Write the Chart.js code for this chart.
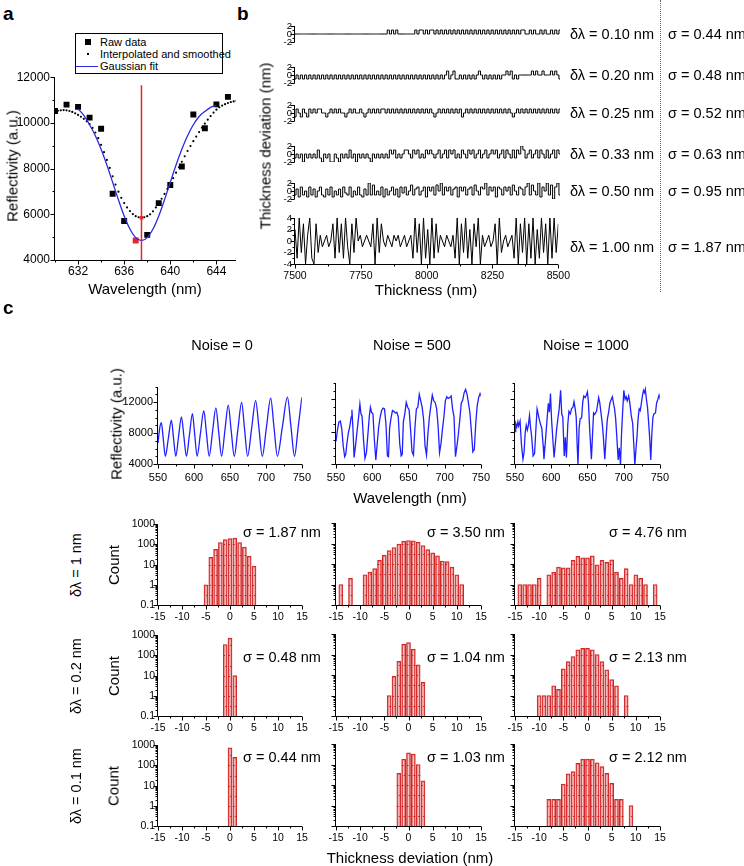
<!DOCTYPE html>
<html>
<head>
<meta charset="utf-8">
<script src="https://cdn.jsdelivr.net/npm/chart.js@4.4.0/dist/chart.umd.min.js"></script>
<style>
body { margin: 0; width: 744px; height: 866px; background: #fff; position: relative; overflow: hidden;
       font-family: 'Liberation Sans', Arial, Helvetica, sans-serif; }
canvas { position: absolute; }
.t { position: absolute; white-space: nowrap; color: #000; line-height: 1; }
#legendA { position: absolute; left: 75px; top: 33px; width: 146px; height: 39px; border: 1px solid #000; background: #fff; font-size: 11px; }
#legendA div { position: absolute; left: 24px; line-height: 1; white-space: nowrap; }
#sep { position: absolute; left: 660px; top: 0; height: 292px; border-left: 1px dotted #666; }
</style>
</head>
<body>
<div id="legendA">
  <span style="position:absolute;left:9px;top:5px;width:6px;height:6px;background:#000"></span>
  <div style="top:3px">Raw data</div>
  <span style="position:absolute;left:11px;top:19px;width:2px;height:2px;background:#000"></span>
  <div style="top:15px">Interpolated and smoothed</div>
  <span style="position:absolute;left:0px;top:32px;width:22px;height:1.3px;background:#2a2ae0"></span>
  <div style="top:27px">Gaussian fit</div>
</div>
<div id="sep"></div>
<script>
// ---------- panel a ----------
const rawWl = [630, 631, 632, 633, 634, 635, 636, 637, 638, 639, 640, 641, 642, 643, 644, 645];
const rawR = [10520, 10800, 10700, 10230, 9740, 6900, 5710, 4850, 5100, 6490, 7280, 8090, 10370, 9770, 10810, 11140];
// smoothed curve, every 0.25 nm from 630 nm
const smoothStart = 630, smoothStep = 0.25;
const smoothR = [10500, 10530, 10550, 10560, 10550, 10520, 10480, 10420,
                 10350, 10270, 10180, 10070, 9950, 9780, 9580, 9330,
                 9040, 8720, 8380, 8030, 7660, 7300, 6990, 6720,
                 6490, 6300, 6140, 6010, 5920, 5870, 5850, 5870,
                 5920, 6000, 6130, 6300, 6480, 6680, 6890, 7110,
                 7340, 7580, 7820, 8060, 8300, 8540, 8770, 8990,
                 9200, 9400, 9600, 9790, 9970, 10140, 10300, 10450,
                 10580, 10680, 10760, 10820, 10870, 10910, 10940, 10970];
const fitWl = [632, 632.5, 633, 633.5, 634, 634.5, 635, 635.5, 636, 636.5, 637, 637.5, 638,
               638.5, 639, 639.5, 640, 640.5, 641, 641.5, 642, 642.5, 643, 643.5, 644];
const fitR = [10620, 10330, 9918, 9441, 8849, 8159, 7402, 6636, 5929, 5356, 4980, 4850, 4980,
              5356, 5929, 6636, 7402, 8159, 8849, 9441, 9918, 10279, 10500, 10680, 10770];
const peakWl = 637.5;

// ---------- panel b ----------
const thickStart = 7500, thickStep = 8;
const dev010 = [0,0,0,0,0,0,0,0,0,0, 0,0,0,0,0,0,0,0,0,0, 0,0,0,0,0,0,0,0,0,0, 0,0,0,0,0,0,0,0,0,0,
  0,0,0,0,1,0,1,0,1,0, 0,0,0,0,0,0,0,1,0,1, 1,0,1,0,1,1,0,1,0,1, 0,1,0,1,0,1,0,1,0,1,
  0,1,0,1,0,1,0,1,0,1, 0,1,0,1,0,1,0,1,0,1, 0,1,0,1,0,1,0,1,1,0, 0,1,0,1,0,0,1,0,1,0, 0,1,0,1,0,1];
const dev020 = [-1,0,-1,0,-1,0,-1,0,-1,0, -1,0,-1,0,-1,0,-1,0,-1,0, -1,0,-1,0,-1,0,-1,0,-1,0,
  -1,0,-1,0,-1,0,-1,0,-1,0, -1,0,-1,0,-1,0,-1,0,-1,0, -1,0,-1,0,-1,0,-1,0,-1,0,
  -1,0,-1,0,-1,0,-1,0,-1,0, -1,0,1,-1,0,1,-1,-1,0,-1, 0,-1,0,-1,0,-1,0,1,0,-1,
  0,-1,0,-1,0,-1,0,-1,0,0, 1,0,1,-1,0,-1,0,0,0,0, 0,0,1,0,1,0,0,1,0,0, 0,1,0,1,0,-1];
const dev025 = [-1,1,0,-1,1,0,-1,1,0,1, 0,1,1,0,0,-1,0,1,0,1, 0,1,0,0,-1,0,1,0,1,0,
  0,1,0,-1,0,1,0,1,0,1, 0,1,1,0,1,0,1,0,1,0, 1,0,1,0,1,0,1,0,1,0, 1,0,1,0,1,0,-1,0,1,0,
  1,0,1,0,1,0,1,0,1,-1, 0,1,0,1,0,1,0,1,0,1, 0,1,0,1,0,1,0,1,0,1, 0,1,0,-1,0,1,0,1,0,1,
  0,1,0,1,0,1,0,1,0,1, 0,1,0,1,0,1];
const dev033 = [-1,0,-1,0,-2,0,-1,0,-1,0, -1,1,-1,-2,0,-1,0,-2,-2,0, -1,-2,0,-1,0,-1,1,-1,0,-2,
  0,-1,0,-1,0,-1,-2,0,-1,0, -1,0,-1,0,-1,1,0,1,-1,0, -1,0,1,1,0,-1,1,0,1,-1,
  0,-1,1,0,1,0,-1,0,1,-1, 0,1,-1,1,0,1,-1,0,-1,1, 0,-1,1,0,1,-1,0,1,-1,0,
  1,-1,0,1,0,1,-1,0,1,-1, 1,0,-1,1,-1,1,0,2,1,-1, 0,1,-1,0,1,-1,1,0,-1,1, -1,0,1,-1,1,0];
const dev050 = [-1,0.5,-1.5,1,-1,0,-1.5,1,-1,0.5, -1.5,0,1,-1,-1.5,0.5,-1,1,-1.5,0,
  -1,0.5,-1.5,1,-0.5,-1,1,-1.5,0,-1, 1,-1,-1.5,0.5,-1,2,-1,1.5,-1,0,
  -1,1,-1.5,0.5,-1,0,1,-1,0.5,-1.5, 1,-0.5,1,-1,0,1.5,-1,0.5,1,-1,
  0,1,-1.5,1,0,1,-1,1.5,0,2, -1,1,0,1,-1,0.5,1,-1.5,1,0,
  1,-1,0.5,1,-1,1.5,0,-1,1,0.5, 2,-1,1,0,1,-1.5,1,0.5,-1,1,
  0,1,-1,1.5,0,-1,1,0.5,-1,1, 2,-1,1.5,0,-1,2,-1.5,1,0,2, -1,1.5,-2,1,2,-1];
const dev100 = [2,-3,4,-2,3,-4,1,4,-3,-4, 3,-2,1,-1,0,1,-1,0, 3,-3,
  4,-2,3,-3,4,-1,-4,3,-2,4, 0,1,-1,0,1,0,-1, 3,-4,4,-2,3,
  0,-1,1,0,-1,1,0,1,-1,0,1,-1,0,1, -3,4,-2,3,-4,4,-3,2,-4,4,-3,3,-2,
  1,0,-1,1,0,-1,1, -3,4,-4,3,-2,4,-3,2,-4,3,-1,4,-4, 1,-1,0,1,-1,0, 3,-4,4,-2,
  0,1,-1,0,1, -3,4,-4,3,-2,4,-4,3,-3,4,-4,2,-3,4,-2,3,-4,4,-3,4,-2,3];
const rowsB = [
  {dev: dev010, dl: 'δλ = 0.10 nm', sig: 'σ = 0.44 nm', mid: 34},
  {dev: dev020, dl: 'δλ = 0.20 nm', sig: 'σ = 0.48 nm', mid: 75},
  {dev: dev025, dl: 'δλ = 0.25 nm', sig: 'σ = 0.52 nm', mid: 113},
  {dev: dev033, dl: 'δλ = 0.33 nm', sig: 'σ = 0.63 nm', mid: 154},
  {dev: dev050, dl: 'δλ = 0.50 nm', sig: 'σ = 0.95 nm', mid: 191},
  {dev: dev100, dl: 'δλ = 1.00 nm', sig: 'σ = 1.87 nm', mid: 241}
];

// ---------- panel c: spectra ----------
const spec0 = [[550,6700],[552.5,8700],[554.7,9350],[557.4,7175],[560.2,5000],[564.4,7325],[568.6,9650],
  [571.6,7325],[574.7,5000],[578.6,7550],[582.6,10100],[586,7550],[589.5,5000],[593.7,7750],[597.9,10500],
  [601.1,7750],[604.4,5000],[609,7950],[613.7,10900],[617.4,7950],[621.2,5000],[625.8,8125],[630.5,11250],
  [634.4,8125],[638.4,5000],[643,8300],[647.7,11600],[651.8,8300],[656,5000],[661.1,8475],[666.3,11950],
  [670.4,8475],[674.6,5000],[680.2,8600],[685.8,12200],[690.4,8600],[695,5000],[700.8,8750],[706.7,12500],
  [711.3,8750],[716,5000],[723,8825],[730,12650],[734.9,8825],[739.8,5000],[745,8800],[750,12600]];
const spec500 = [[550,6800],[552,8200],[554,9200],[556,9300],[558,8300],[560,6200],[562,4900],[563.5,5200],
  [565,6500],[567,7800],[569,8600],[571,9800],[572,10700],[573.5,8200],[575,4800],[577,6300],[579,8000],
  [581,9600],[583,11400],[584.5,10200],[586,9900],[588,7000],[590,4700],[592,5400],[594,7600],[596,9900],
  [597.5,11000],[599,10400],[601,10200],[603,7000],[605,4500],[607,6600],[609,8600],[611,9800],[613,10600],
  [615,10900],[617,10800],[619,8900],[621,5000],[622.5,4900],[624,8400],[626,9700],[628,10600],[630,10500],
  [632,10300],[634,10400],[636,9800],[638,6500],[640,5000],[641.5,5200],[643,9200],[645,10200],[647,11600],
  [649,11000],[651,10700],[653,8200],[655,5500],[657,5100],[659,8500],[661,10800],[663,11000],[665,12600],
  [667,11800],[669,11000],[671,9500],[673,6200],[675,5100],[677,7800],[679,9800],[681,11200],[683,12500],
  [685,11800],[687,11600],[689,10800],[691,8700],[693,5400],[695,6500],[697,8300],[699,9800],[701,11800],
  [703,12300],[705,12100],[707,12200],[709,12400],[711,10800],[713,9800],[715,4900],[717,6200],[719,7700],
  [721,9500],[723,11500],[725,11900],[727,12800],[729,13200],[731,12600],[733,11500],[735,10300],[737,8000],
  [739,5500],[741,5800],[743,9000],[745,11200],[747,12200],[749,12700],[750,12500]];
const spec1000 = [[550,8000],[551,9000],[552.5,8600],[554,9200],[555,8700],[557,9300],[559,6300],[561,4600],
  [562.5,5400],[564,7800],[565.5,8800],[567,8200],[568.5,8800],[570,10000],[571.5,8500],[573,7400],[575,5000],
  [577,5300],[579,8500],[580.5,10800],[582,10200],[583.5,9500],[585,9000],[587,8400],[589,6200],[590,4600],
  [592,6800],[594,9200],[596,11500],[597.5,10400],[599,12700],[600.5,9500],[602,7400],[604,4800],[606,6800],
  [607.5,8300],[609.5,9800],[611,10800],[613,13100],[614.5,10200],[616,9800],[618,5000],[619.5,7300],[621,4800],
  [623,9000],[624.5,10500],[626.5,10200],[628,10800],[630,11000],[631.5,11700],[633,10900],[634.5,9800],
  [636,6000],[637,3900],[638.5,8400],[640,9600],[642,9700],[643.5,11600],[645,12400],[647,12200],[648.5,12500],
  [650,12900],[651.5,11500],[653,8500],[655.5,4600],[657,7500],[658.5,10300],[660,10100],[662.5,10500],
  [664,11300],[665.5,12200],[667,11600],[668.5,10500],[670.5,9000],[672,7400],[674,4600],[676,7600],
  [677.5,9500],[679.5,10500],[681,11500],[683,12000],[684.5,12300],[686,11500],[687.5,10800],[689,9600],
  [690.5,7500],[692.5,4500],[694,6000],[695.7,3900],[697,7500],[698.5,10200],[700.3,13100],[702,12000],
  [703.5,12300],[705,11800],[707,12400],[708.5,11600],[710.5,10000],[712.5,9000],[714,6500],[715.5,3900],
  [717,5800],[718.5,7400],[720,9600],[721.5,10800],[723,10600],[724.5,11500],[726,12400],[727.5,13100],
  [729,12800],[730,13200],[731.5,12000],[733,11000],[734.5,9200],[736,7200],[737.5,4500],[739,7800],
  [740.5,9800],[742,10200],[744,10300],[745.5,11500],[747,11900],[749,12500],[750,12200]];
const noiseTitles = ['Noise = 0', 'Noise = 500', 'Noise = 1000'];

// ---------- panel c: histograms [bin centre, count] ----------
const histD1N0 = [[-5,1],[-4,23],[-3,57],[-2,125],[-1,175],[0,195],[1,205],[2,125],[3,75],[4,26],[5,8.5]];
const histD1N500 = [[-14,1],[-12,2],[-9,3],[-8,4],[-7,6],[-6,15],[-5,27],[-4,45],[-3,64],[-2,95],[-1,130],
  [0,140],[1,135],[2,115],[3,80],[4,50],[5,35],[6,25],[7,14],[8,13],[9,7],[10,3],[11,1]];
const histD1N1000 = [[-14,1],[-13,1],[-12,1],[-11,1],[-10,2],[-8,3],[-7,4],[-6,7],[-5,6.5],[-4,6.5],[-3,15],
  [-2,24],[-1,20],[0,20],[1,25],[2,9],[3,15],[4,12],[5,16],[6,4],[7,2],[8,6],[9,1],[10,3],[11,2],[12,1],[14,1]];
const histD02N0 = [[-1,350],[0,720],[1,10]];
const histD02N500 = [[-4,1],[-3,8.6],[-2,46],[-1,316],[0,380],[1,180],[2,31],[3,4.4]];
const histD02N1000 = [[-10,1],[-9,1],[-8,1],[-7,3],[-6,2],[-5,20],[-4,45],[-3,80],[-2,170],[-1,200],[0,200],
  [1,170],[2,100],[3,45],[4,18],[5,6],[6,3],[8,1]];
const histD01N0 = [[0,750],[1,250]];
const histD01N500 = [[-2,37],[-1,183],[0,370],[1,320],[2,100],[3,16]];
const histD01N1000 = [[-8,2],[-7,2],[-6,2],[-5,11],[-4,35],[-3,45],[-2,113],[-1,183],[0,183],[1,183],[2,122],
  [3,79],[4,37],[5,12],[6,2],[7,2],[9,1]];
const histRows = [
  {label: 'δλ = 1 nm', hists: [histD1N0, histD1N500, histD1N1000], sig: ['σ = 1.87 nm', 'σ = 3.50 nm', 'σ = 4.76 nm']},
  {label: 'δλ = 0.2 nm', hists: [histD02N0, histD02N500, histD02N1000], sig: ['σ = 0.48 nm', 'σ = 1.04 nm', 'σ = 2.13 nm']},
  {label: 'δλ = 0.1 nm', hists: [histD01N0, histD01N500, histD01N1000], sig: ['σ = 0.44 nm', 'σ = 1.03 nm', 'σ = 2.12 nm']}
];

// ---------- helpers ----------
Chart.defaults.font.family = "'Liberation Sans', Arial, Helvetica, sans-serif";
Chart.defaults.color = '#000';
Chart.defaults.animation = false;

// axis lines + outward major/minor tick marks
const axisMarks = {
  id: 'axisMarks',
  afterDraw(chart, args, o) {
    const {ctx, chartArea: a} = chart;
    const x = chart.scales.x, y = chart.scales.y;
    const L = Math.round(a.left) - 0.5, B = Math.round(a.bottom) + 0.5;
    ctx.save();
    ctx.strokeStyle = '#000';
    ctx.lineWidth = 1;
    ctx.beginPath();
    ctx.moveTo(L, Math.round(a.top)); ctx.lineTo(L, B);
    (o.yMajor || []).forEach(v => { const p = Math.round(y.getPixelForValue(v)) + 0.5; ctx.moveTo(L, p); ctx.lineTo(L - 4, p); });
    (o.yMinor || []).forEach(v => { const p = Math.round(y.getPixelForValue(v)) + 0.5; ctx.moveTo(L, p); ctx.lineTo(L - 2, p); });
    if (o.bottom) {
      ctx.moveTo(L, B); ctx.lineTo(Math.round(a.right), B);
      (o.xMajor || []).forEach(v => { const p = Math.round(x.getPixelForValue(v)) + 0.5; ctx.moveTo(p, B); ctx.lineTo(p, B + 4); });
      (o.xMinor || []).forEach(v => { const p = Math.round(x.getPixelForValue(v)) + 0.5; ctx.moveTo(p, B); ctx.lineTo(p, B + 2); });
    }
    ctx.stroke();
    ctx.restore();
  }
};

// small pattern marks inside histogram bars
const barMarks = {
  id: 'barMarks',
  afterDatasetsDraw(chart) {
    const ctx = chart.ctx, y = chart.scales.y;
    const levels = [0.316, 1, 3.16, 10, 31.6, 100, 316];
    ctx.save();
    ctx.strokeStyle = '#d42424';
    ctx.lineWidth = 1;
    ctx.beginPath();
    chart.getDatasetMeta(0).data.forEach((bar, i) => {
      const val = chart.data.datasets[0].data[i].y;
      levels.forEach((lv, k) => {
        if (lv >= val * 0.8) return;
        const p = Math.round(y.getPixelForValue(lv)) + 0.5;
        const xl = bar.x + (k % 2 ? -2 : 0);
        ctx.moveTo(xl, p); ctx.lineTo(xl + 2, p);
      });
    });
    ctx.stroke();
    ctx.restore();
  }
};

function axis(type, min, max, labelVals, size, pad, show) {
  return {
    type: type, min: min, max: max, offset: false,
    grid: {display: false, drawTicks: false}, border: {display: false},
    afterBuildTicks: s => { s.ticks = labelVals.map(v => ({value: v})); },
    ticks: {display: show, autoSkip: false, maxRotation: 0, minRotation: 0, padding: pad,
            font: {size: size}, color: '#000', callback: v => String(v)}
  };
}

// the plot area is placed exactly at box; margins m hold the tick labels
function makePlot(box, m, type, datasets, xs, ys, marks, extra) {
  const cv = document.createElement('canvas');
  cv.width = box.w + m.l + m.r;
  cv.height = box.h + m.t + m.b;
  cv.style.left = (box.x - m.l) + 'px';
  cv.style.top = (box.y - m.t) + 'px';
  document.body.appendChild(cv);
  xs.afterFit = s => { s.height = m.b; };
  ys.afterFit = s => { s.width = m.l; };
  return new Chart(cv, {
    type: type,
    data: {datasets: datasets},
    options: {
      responsive: false, animation: false, events: [],
      layout: {padding: {top: m.t, right: m.r, left: 0, bottom: 0}},
      plugins: {legend: {display: false}, tooltip: {enabled: false}, axisMarks: marks},
      scales: {x: xs, y: ys}
    },
    plugins: extra ? [axisMarks, extra] : [axisMarks]
  });
}

function txt(s, x, y, size, opt) {
  opt = opt || {};
  const d = document.createElement('div');
  d.className = 't';
  d.textContent = s;
  d.style.left = x + 'px';
  d.style.top = y + 'px';
  d.style.fontSize = size + 'px';
  if (opt.bold) d.style.fontWeight = 'bold';
  let tf = opt.align === 'left' ? 'translate(0,-50%)' : 'translate(-50%,-50%)';
  if (opt.rot) tf += ' rotate(-90deg)';
  d.style.transform = tf;
  document.body.appendChild(d);
}

const range = (a, b, s) => { const r = []; for (let v = a; v <= b + 1e-9; v += s) r.push(+v.toFixed(4)); return r; };

// ---------- draw panel a ----------
makePlot({x: 55, y: 73, w: 181, h: 187}, {l: 55, r: 12, t: 8, b: 30}, 'scatter', [
  {type: 'line', data: [{x: peakWl, y: 4000}, {x: peakWl, y: 11650}], borderColor: '#e3262c', borderWidth: 1.5, pointRadius: 0},
  {type: 'line', data: fitWl.map((w, i) => ({x: w, y: fitR[i]})), borderColor: '#2a2ae0', borderWidth: 1.3,
   pointRadius: 0, tension: 0.4, cubicInterpolationMode: 'monotone'},
  {data: smoothR.map((r, i) => ({x: smoothStart + i * smoothStep, y: r})),
   pointRadius: ctx => ctx.raw && ctx.raw.x === peakWl ? 2.6 : 1.1,
   pointStyle: ctx => ctx.raw && ctx.raw.x === peakWl ? 'rect' : 'circle',
   backgroundColor: ctx => ctx.raw && ctx.raw.x === peakWl ? '#e3262c' : '#000', borderWidth: 0},
  {data: rawWl.map((w, i) => ({x: w, y: rawR[i]})), pointStyle: 'rect', pointRadius: 4.2, borderWidth: 0,
   backgroundColor: ctx => ctx.raw && ctx.raw.x === 637 ? '#e3262c' : '#000'}
], axis('linear', 630, 645.7, [632, 636, 640, 644], 12, 4, true),
   axis('linear', 4000, 12000, [4000, 6000, 8000, 10000, 12000], 12, 5, true),
   {bottom: true, xMajor: [632, 636, 640, 644], xMinor: [630, 634, 638, 642],
    yMajor: [4000, 6000, 8000, 10000, 12000], yMinor: [5000, 7000, 9000, 11000]});

txt('a', 3, 13, 19, {bold: true, align: 'left'});
txt('Reflectivity (a.u.)', 12, 166, 15, {rot: true});
txt('Wavelength (nm)', 145, 288, 15);

// ---------- draw panel b ----------
txt('b', 237, 13, 19, {bold: true, align: 'left'});
rowsB.forEach((row, k) => {
  const big = k === 5;
  const half = big ? 23 : 8;
  const lim = big ? 4 : 2;
  const xs = axis('linear', 7500, 8500, [7500, 7750, 8000, 8250, 8500], 10.5, 6, true);
  if (!big) xs.display = false;
  makePlot({x: 295, y: row.mid - half, w: 265, h: half * 2}, {l: 40, r: 16, t: 9, b: big ? 22 : 9}, 'line', [
    {data: row.dev.map((v, i) => ({x: thickStart + i * thickStep, y: v})), borderColor: '#000', borderWidth: 1,
     pointRadius: 0, tension: 0, stepped: big ? false : 'middle'}
  ], xs, axis('linear', -lim, lim, big ? [-4, -2, 0, 2, 4] : [-2, 0, 2], 9.5, 3, true),
  {bottom: big, xMajor: [7500, 7750, 8000, 8250, 8500], xMinor: [7625, 7875, 8125, 8375],
   yMajor: big ? [-4, -2, 0, 2, 4] : [-2, 0, 2], yMinor: big ? [-3, -1, 1, 3] : [-1, 1]});
  const ty = big ? 247 : row.mid;
  txt(row.dl, 570, ty, 14.5, {align: 'left'});
  txt(row.sig, 668, ty, 14.5, {align: 'left'});
});
txt('Thickness deviation (nm)', 265, 146, 15, {rot: true});
txt('Thickness (nm)', 426, 289, 15);

// ---------- draw panel c ----------
txt('c', 3, 307, 19, {bold: true, align: 'left'});
const cols = [{x: 158, w: 144}, {x: 336, w: 145}, {x: 515, w: 145}];
const titleX = [222, 412, 586];
[spec0, spec500, spec1000].forEach((spec, j) => {
  makePlot({x: cols[j].x, y: 383, w: cols[j].w, h: 81}, {l: 45, r: 16, t: 8, b: 22}, 'line', [
    {data: spec.map(p => ({x: p[0], y: p[1]})), borderColor: '#1f1fff', borderWidth: 1.3, pointRadius: 0,
     tension: j === 0 ? 0.4 : 0, cubicInterpolationMode: j === 0 ? 'monotone' : 'default'}
  ], axis('linear', 550, 750, [550, 600, 650, 700, 750], 11, 7, true),
     axis('linear', 4000, 14000, [4000, 8000, 12000], 11, 5, j === 0),
     {bottom: true, xMajor: [550, 600, 650, 700, 750], xMinor: [575, 625, 675, 725],
      yMajor: [4000, 8000, 12000], yMinor: [5000, 6000, 7000, 9000, 10000, 11000, 13000, 14000]});
  txt(noiseTitles[j], titleX[j], 345, 14.5);
});
txt('Reflectivity (a.u.)', 116, 424, 15, {rot: true});
txt('Wavelength (nm)', 410, 497, 15);

const logMinor = [];
[0.1, 1, 10, 100].forEach(d => { for (let k = 2; k <= 9; k++) logMinor.push(+(d * k).toFixed(2)); });
const histTops = [523, 634, 744];
const sigY = [532, 657, 757];
const sigX = [243, 427, 609];
histRows.forEach((row, r) => {
  row.hists.forEach((h, j) => {
    makePlot({x: cols[j].x, y: histTops[r], w: cols[j].w, h: 82}, {l: 40, r: 16, t: 8, b: 20}, 'bar', [
      {data: h.map(p => ({x: p[0], y: p[1]})), backgroundColor: 'rgba(236,150,150,0.5)', borderColor: '#d42424',
       borderWidth: 1, barThickness: 4, grouped: false}
    ], axis('linear', -15, 15, [-15, -10, -5, 0, 5, 10, 15], 10.5, 6, true),
       axis('logarithmic', 0.1, 1000, [0.1, 1, 10, 100, 1000], 10.5, 3, j === 0),
       {bottom: true, xMajor: range(-15, 15, 5), xMinor: range(-12.5, 12.5, 5),
        yMajor: [0.1, 1, 10, 100, 1000], yMinor: logMinor}, barMarks);
    txt(row.sig[j], sigX[j], sigY[r], 14.5, {align: 'left'});
  });
  txt(row.label, 76, histTops[r] + 42, 14.5, {rot: true});
  txt('Count', 113, histTops[r] + 42, 15, {rot: true});
});
txt('Thickness deviation (nm)', 410, 857, 15);
</script>
</body>
</html>
